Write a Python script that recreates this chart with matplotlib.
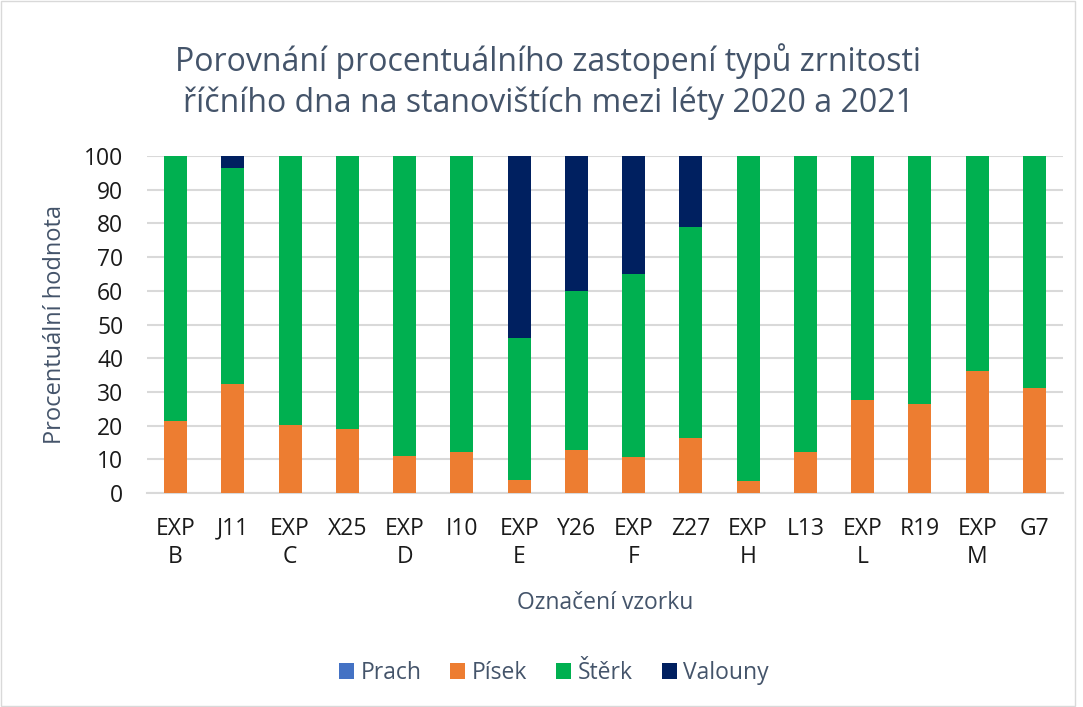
import matplotlib
matplotlib.use("Agg")
import matplotlib.pyplot as plt
import numpy as np
from matplotlib.patches import Rectangle

categories = ["EXP\nB", "J11", "EXP\nC", "X25", "EXP\nD", "I10", "EXP\nE", "Y26",
              "EXP\nF", "Z27", "EXP\nH", "L13", "EXP\nL", "R19", "EXP\nM", "G7"]
prach = [0, 0, 0, 0, 0, 0, 0, 0, 0, 0, 0, 0, 0, 0, 0, 0]
pisek = [21.4, 32.3, 20.2, 18.9, 11.0, 12.3, 3.9, 12.8, 10.7, 16.2, 3.5, 12.1, 27.7, 26.5, 36.2, 31.2]
sterk_top = [100, 96.5, 100, 100, 100, 100, 46.0, 60.0, 65.1, 78.9, 100, 100, 100, 100, 100, 100]
sterk = [t - p for t, p in zip(sterk_top, pisek)]
valouny = [100 - t for t in sterk_top]

series_names = ["Prach", "Písek", "Štěrk", "Valouny"]
colors = ["#4472C4", "#ED7D31", "#00B050", "#002060"]

plt.rcParams['font.family'] = ['Open Sans', 'DejaVu Sans']

fig = plt.figure(figsize=(10.83, 7.07), dpi=100)
W, H = 1083, 707
ax = fig.add_axes([147 / W, 1 - 493 / H, (1063 - 147) / W, (493 - 156) / H])

x = np.arange(len(categories))
bottom = np.zeros(len(categories))
for name, vals, c in zip(series_names, [prach, pisek, sterk, valouny], colors):
    ax.bar(x, vals, bottom=bottom, width=0.4, color=c, label=name, zorder=3)
    bottom += np.array(vals)

ax.set_xlim(-0.5, len(categories) - 0.5)
ax.set_ylim(0, 100)
ax.set_yticks(range(0, 101, 10))
ax.yaxis.grid(True, color="#D9D9D9", linewidth=1.5, zorder=0)
ax.set_axisbelow(True)
for s in ["top", "right", "left"]:
    ax.spines[s].set_visible(False)
ax.spines["bottom"].set_color("#D9D9D9")
ax.spines["bottom"].set_linewidth(1.5)
ax.tick_params(axis="both", length=0, labelsize=16.5, colors="#1A1A1A")
ax.tick_params(axis="x", pad=17)
ax.tick_params(axis="y", pad=17)
ax.set_xticks(x)
ax.set_xticklabels(categories, linespacing=1.25)

ax.set_ylabel("Procentuální hodnota", fontsize=17, color="#44546A", labelpad=12)
ax.set_xlabel("Označení vzorku", fontsize=16.5, color="#44546A", labelpad=16)

fig.text(548 / W, 1 - 82 / H,
         "Porovnání procentuálního zastopení typů zrnitosti\nříčního dna na stanovištích mezi léty 2020 a 2021",
         ha="center", va="center", fontsize=23, color="#44546A", linespacing=1.3)

leg = fig.legend(loc="center", bbox_to_anchor=(554 / W, 1 - 673 / H), ncol=4,
                 frameon=False, fontsize=16.5, handlelength=0.65, handleheight=0.65,
                 handletextpad=0.3, columnspacing=1.25)
for t in leg.get_texts():
    t.set_color("#44546A")

fig.patches.append(Rectangle((0.001, 0.002), 0.992, 0.996, transform=fig.transFigure,
                             fill=False, edgecolor="#D9D9D9", linewidth=1))

fig.savefig("out.png", dpi=100)
